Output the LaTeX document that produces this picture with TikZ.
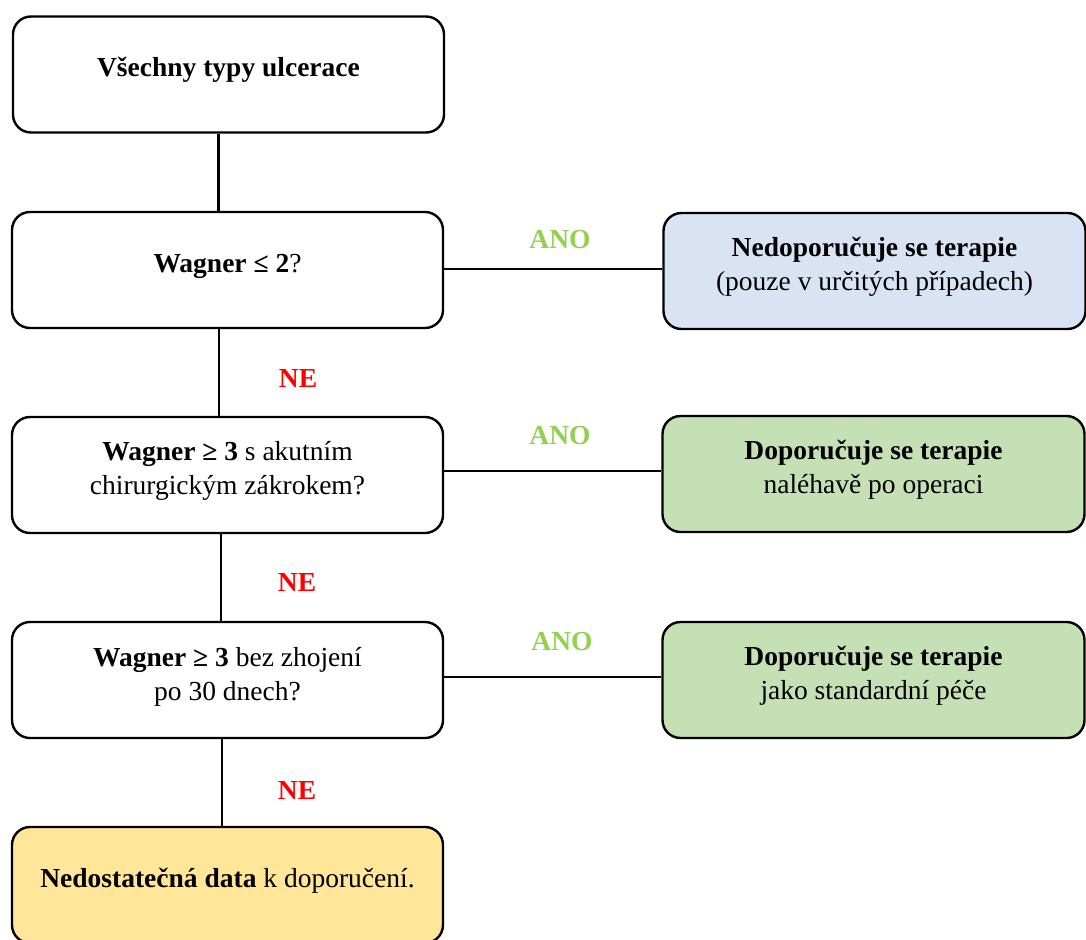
\documentclass[tikz,border=0pt]{standalone}
\usepackage{fontspec}
\setmainfont{Liberation Serif}
\definecolor{boxblue}{HTML}{DAE3F3}
\definecolor{boxgreen}{HTML}{C5E0B4}
\definecolor{boxyellow}{HTML}{FFE699}
\definecolor{anogreen}{HTML}{92D050}
\definecolor{nered}{HTML}{FF0000}
\begin{document}
\begin{tikzpicture}[x=1pt,y=-1pt,
  box/.style={draw=black, line width=2.4pt, rounded corners=18pt, minimum width=431pt, minimum height=116pt, inner sep=0pt},
  rbox/.style={box, minimum width=422pt},
  txt/.style={align=center, font=\fontsize{27.5}{34}\selectfont, inner sep=0pt},
  ano/.style={font=\fontsize{27.5}{34}\selectfont\bfseries, text=anogreen, inner sep=0pt},
  ne/.style={font=\fontsize{27.5}{34}\selectfont\bfseries, text=nered, inner sep=0pt},
  conn/.style={line width=2.6pt}
]
\useasboundingbox (0,0) rectangle (1086,939);
% left column
\node[box, fill=white] (b1) at (228.5,74.5) {};
\node[box, fill=white] (b2) at (227.5,270) {};
\node[box, fill=white] (b3) at (227.5,475) {};
\node[box, fill=white] (b4) at (227.5,680) {};
\node[box, fill=boxyellow] (b5) at (227.5,885) {};
% right column
\node[rbox, fill=boxblue] (r1) at (874.5,271) {};
\node[rbox, fill=boxgreen] (r2) at (873.5,474) {};
\node[rbox, fill=boxgreen] (r3) at (873.5,680) {};
% texts
\node[txt] (t1) at ([yshift=4.5pt]b1.center) {\textbf{Všechny typy ulcerace}};
\node[txt] (t2) at ([yshift=4pt]b2.center) {\textbf{Wagner ≤ 2}?};
\node[txt] (t3) at ([yshift=4pt]b3.center) {\textbf{Wagner ≥ 3} s akutním\\chirurgickým zákrokem?};
\node[txt] (t4) at ([yshift=3.5pt]b4.center) {\textbf{Wagner ≥ 3} bez zhojení\\po 30 dnech?};
\node[txt] (t5) at ([yshift=4pt]b5.center) {\textbf{Nedostatečná data} k doporučení.};
\node[txt] (s1) at ([yshift=4pt]r1.center) {\textbf{Nedoporučuje se terapie}\\(pouze v určitých případech)};
\node[txt] (s2) at ([yshift=4.5pt]r2.center) {\textbf{Doporučuje se terapie}\\naléhavě po operaci};
\node[txt] (s3) at ([yshift=4pt]r3.center) {\textbf{Doporučuje se terapie}\\jako standardní péče};
% vertical connectors
\draw[conn] ([xshift=-10pt]b1.south) -- ([xshift=-10pt]b1.south |- b2.north);
\draw[conn] ([xshift=-8.5pt]b2.south) -- ([xshift=-8.5pt]b2.south |- b3.north);
\draw[conn] ([xshift=-6.5pt]b3.south) -- ([xshift=-6.5pt]b3.south |- b4.north);
\draw[conn] ([xshift=-5.5pt]b4.south) -- ([xshift=-5.5pt]b4.south |- b5.north);
% horizontal connectors
\draw[conn] ([yshift=1pt]b2.east) -- ([yshift=1pt]b2.east -| r1.west);
\draw[conn] ([yshift=4pt]b3.east) -- ([yshift=4pt]b3.east -| r2.west);
\draw[conn] ([yshift=3pt]b4.east) -- ([yshift=3pt]b4.east -| r3.west);
% labels
\node[ano] (a1) at (560,240) {ANO};
\node[ano] (a2) at (560,436) {ANO};
\node[ano] (a3) at (562,642) {ANO};
\node[ne] (n1) at (298,378) {NE};
\node[ne] (n2) at (297,582) {NE};
\node[ne] (n3) at (297,790) {NE};
\end{tikzpicture}
\end{document}
